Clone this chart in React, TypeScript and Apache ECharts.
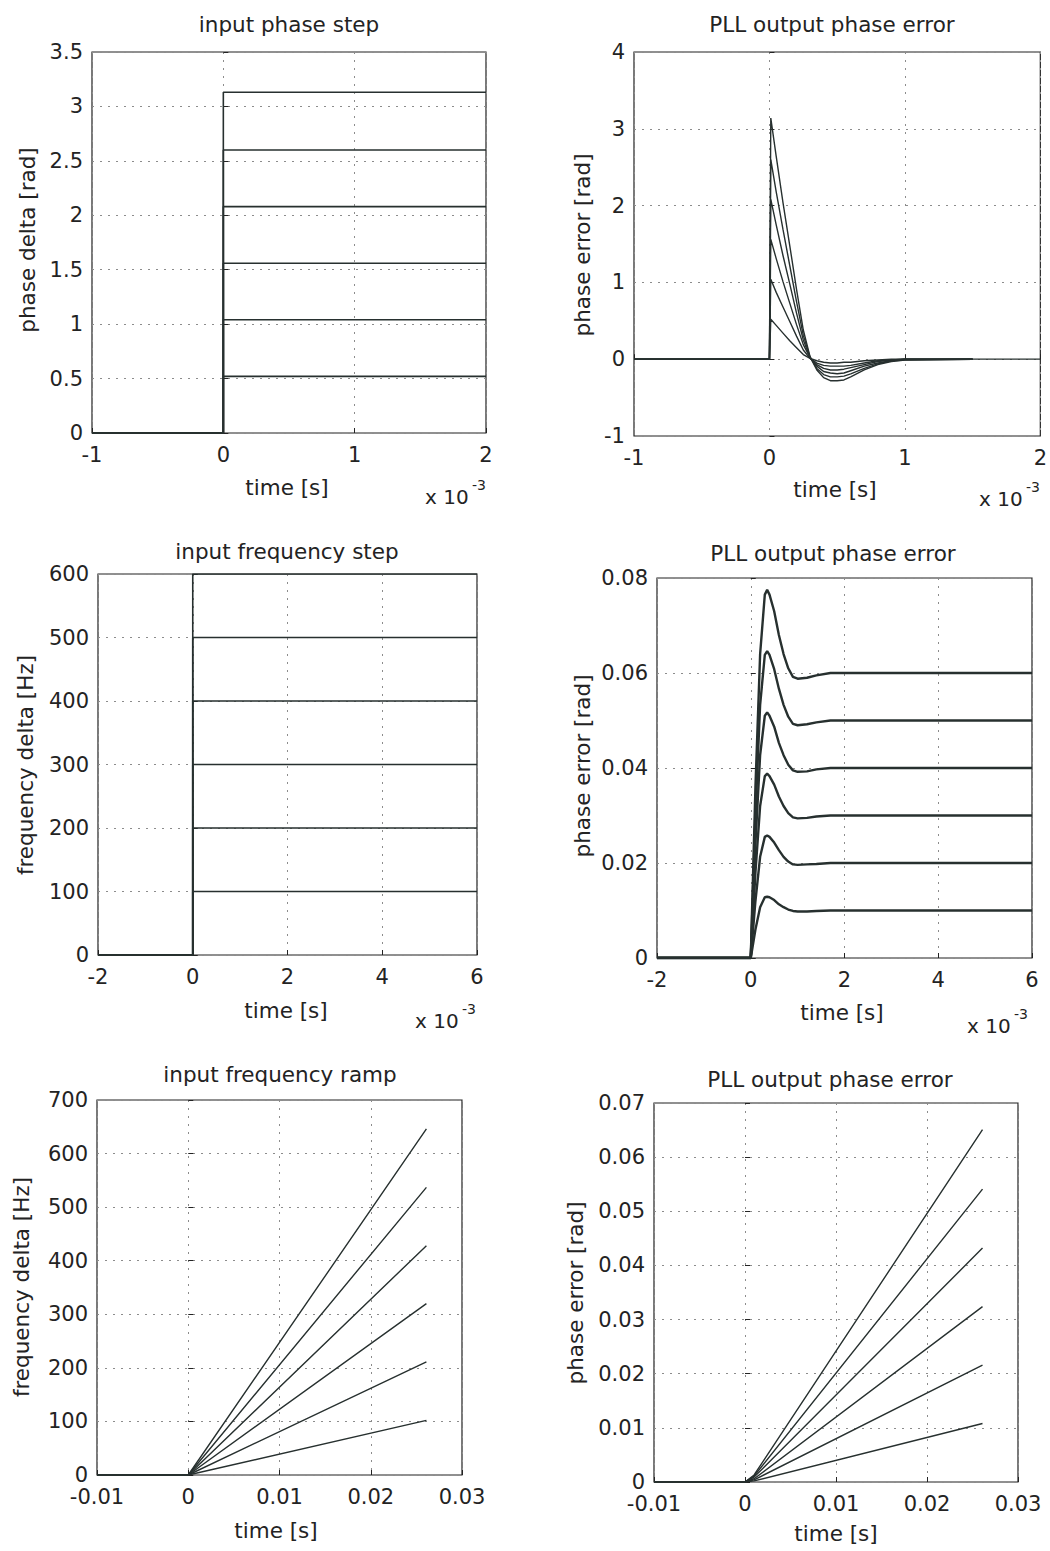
import React, { useEffect, useRef } from "react";
import * as echarts from "echarts";

// ---------- DATA ----------
// 1) input phase step (time in ms, i.e. x 10^-3 s)
const phaseStepTime = [-1, 0, 0, 2];
const phaseStepLevels = [0.52, 1.04, 1.56, 2.08, 2.6, 3.13];

// 2) PLL output phase error for phase step (time in ms)
const pePhaseTime = [-1, 0, 0.01, 0.05, 0.1, 0.15, 0.2, 0.25, 0.3, 0.35, 0.4, 0.45, 0.5, 0.55, 0.6, 0.7, 0.8, 0.9, 1.0, 1.5];
const pePhase314 = [0, 0, 3.14, 2.64, 2.04, 1.48, 0.91, 0.38, 0.03, -0.14, -0.24, -0.28, -0.28, -0.27, -0.23, -0.14, -0.07, -0.03, -0.01, 0];
const pePhase260 = [0, 0, 2.6, 2.18, 1.69, 1.22, 0.75, 0.31, 0.03, -0.12, -0.2, -0.23, -0.23, -0.22, -0.19, -0.12, -0.06, -0.02, -0.01, 0];
const pePhase208 = [0, 0, 2.08, 1.75, 1.35, 0.98, 0.6, 0.25, 0.02, -0.09, -0.16, -0.18, -0.19, -0.18, -0.15, -0.09, -0.05, -0.02, 0, 0];
const pePhase156 = [0, 0, 1.56, 1.31, 1.01, 0.73, 0.45, 0.19, 0.02, -0.07, -0.12, -0.14, -0.14, -0.13, -0.11, -0.07, -0.03, -0.01, 0, 0];
const pePhase104 = [0, 0, 1.04, 0.87, 0.68, 0.49, 0.3, 0.12, 0.01, -0.05, -0.08, -0.09, -0.09, -0.09, -0.08, -0.05, -0.02, -0.01, 0, 0];
const pePhase052 = [0, 0, 0.52, 0.44, 0.34, 0.24, 0.15, 0.06, 0.01, -0.02, -0.04, -0.05, -0.05, -0.04, -0.04, -0.02, -0.01, 0, 0, 0];
const pePhaseTailTime = [1.5, 2];
const pePhaseTail = [0, 0];

// 3) input frequency step (time in ms)
const freqStepTime = [-2, 0, 0, 6];
const freqStepLevels = [100, 200, 300, 400, 500, 600];

// 4) PLL output phase error for frequency step (time in ms)
const peFreqTime = [-2, 0, 0.1, 0.2, 0.3, 0.35, 0.4, 0.5, 0.6, 0.7, 0.8, 0.9, 1.0, 1.2, 1.4, 1.7, 6];
const peFreq06 = [0, 0, 0.036, 0.064, 0.0765, 0.0775, 0.0765, 0.073, 0.068, 0.064, 0.061, 0.0592, 0.0588, 0.059, 0.0595, 0.06, 0.06];
const peFreq05 = [0, 0, 0.03, 0.0533, 0.0638, 0.0646, 0.0638, 0.0608, 0.0567, 0.0533, 0.0508, 0.0493, 0.049, 0.0492, 0.0496, 0.05, 0.05];
const peFreq04 = [0, 0, 0.024, 0.0427, 0.051, 0.0517, 0.051, 0.0487, 0.0453, 0.0427, 0.0407, 0.0395, 0.0392, 0.0393, 0.0397, 0.04, 0.04];
const peFreq03 = [0, 0, 0.018, 0.032, 0.0383, 0.0388, 0.0383, 0.0365, 0.034, 0.032, 0.0305, 0.0296, 0.0294, 0.0295, 0.0298, 0.03, 0.03];
const peFreq02 = [0, 0, 0.012, 0.0213, 0.0255, 0.0258, 0.0255, 0.0243, 0.0227, 0.0213, 0.0203, 0.0197, 0.0196, 0.0197, 0.0198, 0.02, 0.02];
const peFreq01 = [0, 0, 0.006, 0.0107, 0.0128, 0.0129, 0.0128, 0.0122, 0.0113, 0.0107, 0.0102, 0.0099, 0.0098, 0.0098, 0.0099, 0.01, 0.01];

// 5) input frequency ramp (time in s)
const rampTime = [-0.01, 0, 0.0261];
const rampEnds = [102, 211, 320, 428, 537, 646];

// 6) PLL output phase error for frequency ramp (time in s)
const peRampTime = [-0.01, 0, 0.001, 0.0261];
const peRampEarly = [0.0002, 0.0004, 0.0006, 0.0009, 0.0011, 0.0013];
const peRampEnds = [0.0108, 0.0216, 0.0324, 0.0432, 0.0541, 0.0651];

// axis ranges / ticks
const axesSpec = [
  { x: [-1, 2, 1], y: [0, 3.5, 0.5] },
  { x: [-1, 2, 1], y: [-1, 4, 1] },
  { x: [-2, 6, 2], y: [0, 600, 100] },
  { x: [-2, 6, 2], y: [0, 0.08, 0.02] },
  { x: [-0.01, 0.03, 0.01], y: [0, 700, 100] },
  { x: [-0.01, 0.03, 0.01], y: [0, 0.07, 0.01] },
];

const titles = [
  "input phase step",
  "PLL output phase error",
  "input frequency step",
  "PLL output phase error",
  "input frequency ramp",
  "PLL output phase error",
];
const yNames = [
  "phase delta [rad]",
  "phase error [rad]",
  "frequency delta [Hz]",
  "phase error [rad]",
  "frequency delta [Hz]",
  "phase error [rad]",
];
const xName = "time [s]";

// ---------- LAYOUT ----------
const grids = [
  { left: 92, top: 52, width: 394, height: 381 },
  { left: 634, top: 52, width: 408, height: 384 },
  { left: 98, top: 574, width: 379, height: 381 },
  { left: 657, top: 578, width: 375, height: 380 },
  { left: 97, top: 1100, width: 365, height: 375 },
  { left: 654, top: 1103, width: 364, height: 379 },
];
const titlePos = [[289, 24], [832, 24], [287, 551], [833, 553], [280, 1074], [830, 1079]];
const yNamePos = [[27, 240], [582, 245], [25, 765], [582, 766], [21, 1287], [575, 1293]];
const xNamePos = [[287, 487], [835, 489], [286, 1010], [842, 1012], [276, 1530], [836, 1533]];
const expPos = [[425, 497], [979, 499], [415, 1021], [967, 1026]];

const FONT = "DejaVu Sans";
const INK = "#232323";
const LINE = "#27302f";

function pairs(xs: number[], ys: number[]) {
  return xs.map((x, i) => [x, ys[i]]);
}

export default function App() {
  const ref = useRef<HTMLDivElement>(null);
  useEffect(() => {
    if (!ref.current) return;
    const chart = echarts.init(ref.current, null, { renderer: "svg" });

    const xAxis = axesSpec.map((a, i) => ({
      type: "value",
      gridIndex: i,
      min: a.x[0],
      max: a.x[1],
      interval: a.x[2],
      axisLine: { show: false },
      axisTick: { show: true, inside: true, length: 5, lineStyle: { color: INK } },
      axisLabel: { fontFamily: FONT, fontSize: 21, color: INK, margin: 11 },
      splitLine: { show: true, lineStyle: { color: "#8c8c8c", type: [2, 6], width: 1 } },
    }));
    const yAxis = axesSpec.map((a, i) => ({
      type: "value",
      gridIndex: i,
      min: a.y[0],
      max: a.y[1],
      interval: a.y[2],
      axisLine: { show: false },
      axisTick: { show: true, inside: true, length: 5, lineStyle: { color: INK } },
      axisLabel: { fontFamily: FONT, fontSize: 21, color: INK, margin: 9 },
      splitLine: { show: true, lineStyle: { color: "#8c8c8c", type: [2, 6], width: 1 } },
    }));

    const series: any[] = [];
    const add = (idx: number, data: number[][], width: number) => {
      series.push({
        type: "line",
        xAxisIndex: idx,
        yAxisIndex: idx,
        data,
        symbol: "none",
        showSymbol: false,
        lineStyle: { color: LINE, width },
        z: 3,
      });
    };

    phaseStepLevels.forEach((lv) => add(0, pairs(phaseStepTime, [0, 0, lv, lv]), 1.6));
    [pePhase314, pePhase260, pePhase208, pePhase156, pePhase104, pePhase052].forEach((v) =>
      add(1, pairs(pePhaseTime, v), 1.4)
    );
    add(1, pairs(pePhaseTailTime, pePhaseTail), 1.2);
    freqStepLevels.forEach((lv) => add(2, pairs(freqStepTime, [0, 0, lv, lv]), 1.6));
    [peFreq06, peFreq05, peFreq04, peFreq03, peFreq02, peFreq01].forEach((v) =>
      add(3, pairs(peFreqTime, v), 2.4)
    );
    rampEnds.forEach((e) => add(4, pairs(rampTime, [0, 0, e]), 1.4));
    peRampEnds.forEach((e, i) => add(5, pairs(peRampTime, [0, 0, peRampEarly[i], e]), 1.4));

    const graphic: any[] = [];
    const txt = (text: string, x: number, y: number, size: number, rot = 0, align = "center") =>
      graphic.push({
        type: "text",
        x,
        y,
        rotation: rot,
        style: {
          text,
          fill: INK,
          fontFamily: FONT,
          fontSize: size,
          textAlign: align,
          textVerticalAlign: "middle",
        },
        z: 10,
      });
    titles.forEach((t, i) => txt(t, titlePos[i][0], titlePos[i][1], 21.5));
    yNames.forEach((t, i) => txt(t, yNamePos[i][0], yNamePos[i][1], 21.5, Math.PI / 2));
    xNamePos.forEach((p) => txt(xName, p[0], p[1], 21.5));
    expPos.forEach((p) => {
      txt("x 10", p[0], p[1], 20, 0, "left");
      txt("-3", p[0] + 47, p[1] - 12, 14, 0, "left");
    });

    chart.setOption({
      animation: false,
      backgroundColor: "#ffffff",
      grid: grids.map((g) => ({
        ...g,
        show: true,
        borderColor: "#222",
        borderWidth: 1.2,
        backgroundColor: "transparent",
        containLabel: false,
      })),
      xAxis,
      yAxis,
      series,
      graphic,
    });
    return () => chart.dispose();
  }, []);

  return (
    <div
      ref={ref}
      style={{ position: "absolute", left: 0, top: 0, width: 1050, height: 1551, background: "#fff" }}
    />
  );
}
